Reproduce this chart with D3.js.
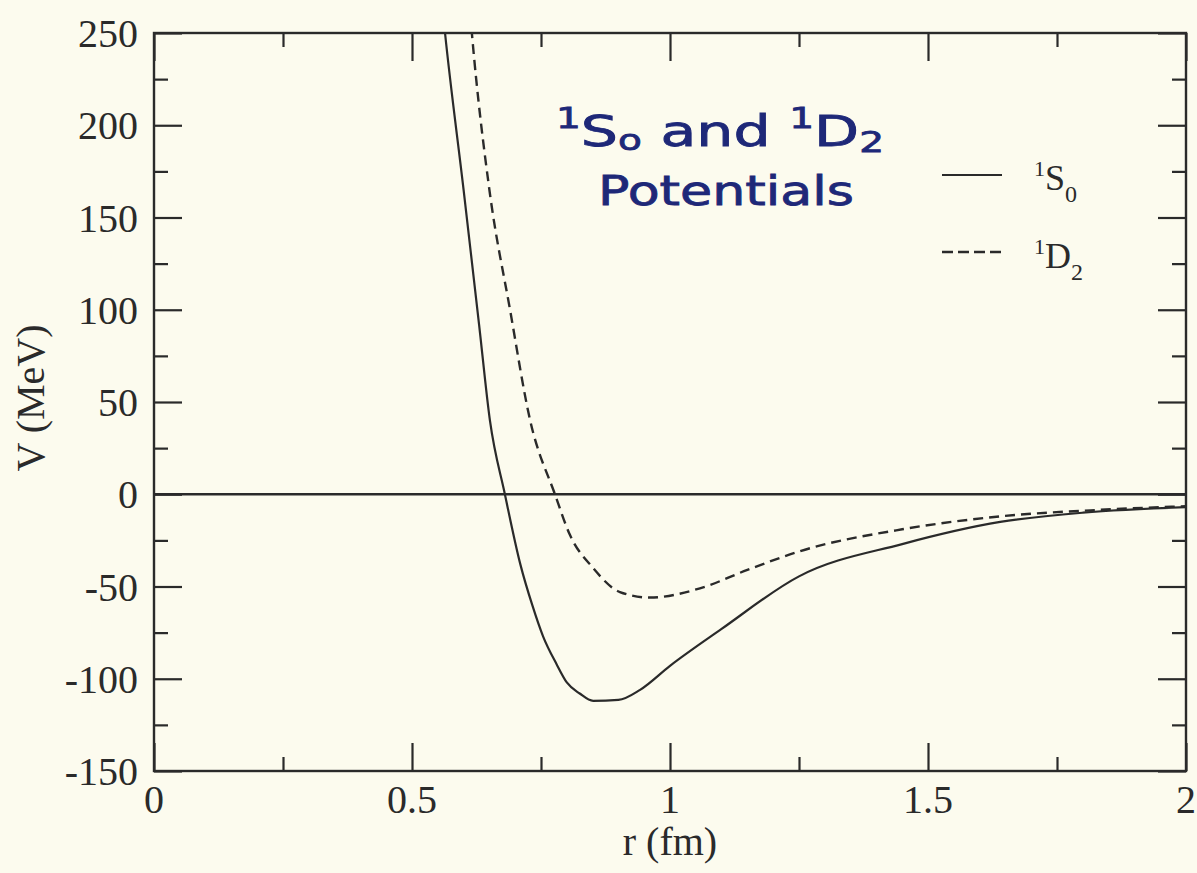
<!DOCTYPE html>
<html>
<head>
<meta charset="utf-8">
<script src="https://cdn.jsdelivr.net/npm/d3@7"></script>
<style>
  body { margin: 0; background: #fcfbee; }
  svg { display: block; }
  text { font-family: "Liberation Serif", "Times New Roman", serif; fill: #2a2a2a; }
  text.hand { font-family: "DejaVu Sans", sans-serif; fill: #1e2878; }
</style>
</head>
<body>
<div id="chart"><svg></svg></div>
<script>
// values (r in fm, V in MeV)
var rS0 = [0.555, 0.564, 0.60, 0.63, 0.651, 0.68, 0.71, 0.733, 0.754, 0.78, 0.80, 0.825, 0.851, 0.90, 0.942, 1.0, 1.1, 1.25, 1.45, 1.64, 1.8, 2.0];
var vS0 = [275, 250, 165, 92, 40, 0, -38, -60, -77, -92, -102, -108, -112, -111.5, -106, -93, -73, -44.5, -27, -15, -10, -7];
var rD2 = [0.61, 0.616, 0.65, 0.69, 0.729, 0.777, 0.806, 0.851, 0.903, 0.961, 1.058, 1.15, 1.25, 1.45, 1.64, 1.83, 2.0];
var vD2 = [270, 250, 165, 100, 40, 0, -22, -40, -53, -56, -51, -41, -31, -19, -12, -8.5, -6.5];

var xMajor = [0, 0.5, 1, 1.5, 2];
var xLabels = ["0", "0.5", "1", "1.5", "2"];
var yMajor = [-150, -100, -50, 0, 50, 100, 150, 200, 250];
var yLabels = ["-150", "-100", "-50", "0", "50", "100", "150", "200", "250"];
var xMinor = [0.25, 0.75, 1.25, 1.75];
var yMinor = [-125, -75, -25, 25, 75, 125, 175, 225];

var width = 1197, height = 873;
var mLeft = 154, mRight = 1186, mTop = 33, mBottom = 771;
var ink = "#2a2a2a";

var svg = d3.select("#chart").select("svg").attr("width", width).attr("height", height);
svg.append("rect").attr("width", width).attr("height", height).attr("fill", "#fcfbee");

var x = d3.scaleLinear().domain([0, 2]).range([mLeft, mRight]);
var y = d3.scaleLinear().domain([-150, 250]).range([mBottom, mTop]);

// clip the curves to the frame
svg.append("clipPath").attr("id", "plotclip")
  .append("rect").attr("x", mLeft).attr("y", mTop).attr("width", mRight - mLeft).attr("height", mBottom - mTop);

// ticks on all four sides, pointing inward
function ticks(axis, tr, vals, len) {
  svg.append("g").attr("transform", tr)
    .call(axis.tickValues(vals).tickSize(-len).tickFormat(""))
    .call(function(g) { g.select(".domain").remove(); g.selectAll("line").attr("stroke", ink).attr("stroke-width", 2.2); });
}
var sides = [
  { axis: () => d3.axisBottom(x), tr: "translate(0," + mBottom + ")", maj: xMajor, mn: xMinor },
  { axis: () => d3.axisTop(x), tr: "translate(0," + mTop + ")", maj: xMajor, mn: xMinor },
  { axis: () => d3.axisLeft(y), tr: "translate(" + mLeft + ",0)", maj: yMajor, mn: yMinor },
  { axis: () => d3.axisRight(y), tr: "translate(" + mRight + ",0)", maj: yMajor, mn: yMinor }
];
sides.forEach(function(s) {
  ticks(s.axis(), s.tr, s.maj, 28);
  ticks(s.axis(), s.tr, s.mn, 14);
});

// tick labels
svg.append("g").selectAll("text").data(xMajor).enter().append("text")
  .attr("x", d => x(d)).attr("y", mBottom + 42)
  .attr("text-anchor", "middle").attr("font-size", 40)
  .text((d, i) => xLabels[i]);
svg.append("g").selectAll("text").data(yMajor).enter().append("text")
  .attr("x", mLeft - 16).attr("y", d => y(d)).attr("dy", "0.35em")
  .attr("text-anchor", "end").attr("font-size", 40)
  .text((d, i) => yLabels[i]);

// axis titles
svg.append("text").attr("x", (mLeft + mRight) / 2).attr("y", 855)
  .attr("text-anchor", "middle").attr("font-size", 40).text("r (fm)");
svg.append("text").attr("transform", "translate(44,398) rotate(-90)")
  .attr("text-anchor", "middle").attr("font-size", 40).text("V (MeV)");

// zero line
svg.append("line").attr("x1", mLeft).attr("x2", mRight).attr("y1", y(0)).attr("y2", y(0))
  .attr("stroke", ink).attr("stroke-width", 2.4);

// curves
var line = d3.line().x(d => x(d[0])).y(d => y(d[1])).curve(d3.curveMonotoneX);
var plot = svg.append("g").attr("clip-path", "url(#plotclip)");
plot.append("path").datum(d3.zip(rS0, vS0)).attr("d", line)
  .attr("fill", "none").attr("stroke", ink).attr("stroke-width", 2.2);
plot.append("path").datum(d3.zip(rD2, vD2)).attr("d", line)
  .attr("fill", "none").attr("stroke", ink).attr("stroke-width", 2.4).attr("stroke-dasharray", "10,6");

// frame
svg.append("rect").attr("x", mLeft).attr("y", mTop).attr("width", mRight - mLeft).attr("height", mBottom - mTop)
  .attr("fill", "none").attr("stroke", ink).attr("stroke-width", 2.4);

// legend
var legend = svg.append("g");
legend.append("line").attr("x1", 942).attr("x2", 1002).attr("y1", 175).attr("y2", 175)
  .attr("stroke", ink).attr("stroke-width", 2.2);
legend.append("line").attr("x1", 942).attr("x2", 1002).attr("y1", 252).attr("y2", 252)
  .attr("stroke", ink).attr("stroke-width", 2.4).attr("stroke-dasharray", "11,5");
function term(xp, yp, sup, letter, sub) {
  var t = legend.append("text").attr("x", xp).attr("y", yp).attr("font-size", 36);
  t.append("tspan").attr("font-size", 22).attr("dy", -14).text(sup);
  t.append("tspan").attr("dy", 14).text(letter);
  t.append("tspan").attr("font-size", 24).attr("dy", 12).text(sub);
}
term(1034, 190, "1", "S", "0");
term(1034, 268, "1", "D", "2");

// handwritten note
var l1 = svg.append("text").attr("class", "hand").attr("x", 556).attr("y", 146).attr("font-size", 42)
  .attr("textLength", 328).attr("lengthAdjust", "spacingAndGlyphs")
  .attr("stroke", "#1e2878").attr("stroke-width", 0.8);
l1.append("tspan").attr("font-size", 28).attr("dy", -18).text("1");
l1.append("tspan").attr("dy", 18).text("S");
l1.append("tspan").attr("font-size", 28).attr("dy", 4).text("o");
l1.append("tspan").attr("dy", -4).text(" and ");
l1.append("tspan").attr("font-size", 28).attr("dy", -18).text("1");
l1.append("tspan").attr("dy", 18).text("D");
l1.append("tspan").attr("font-size", 28).attr("dy", 6).text("2");
svg.append("text").attr("class", "hand").attr("x", 598).attr("y", 205).attr("font-size", 40)
  .attr("textLength", 256).attr("lengthAdjust", "spacingAndGlyphs")
  .attr("stroke", "#1e2878").attr("stroke-width", 0.8)
  .text("Potentials");
</script>
</body>
</html>
